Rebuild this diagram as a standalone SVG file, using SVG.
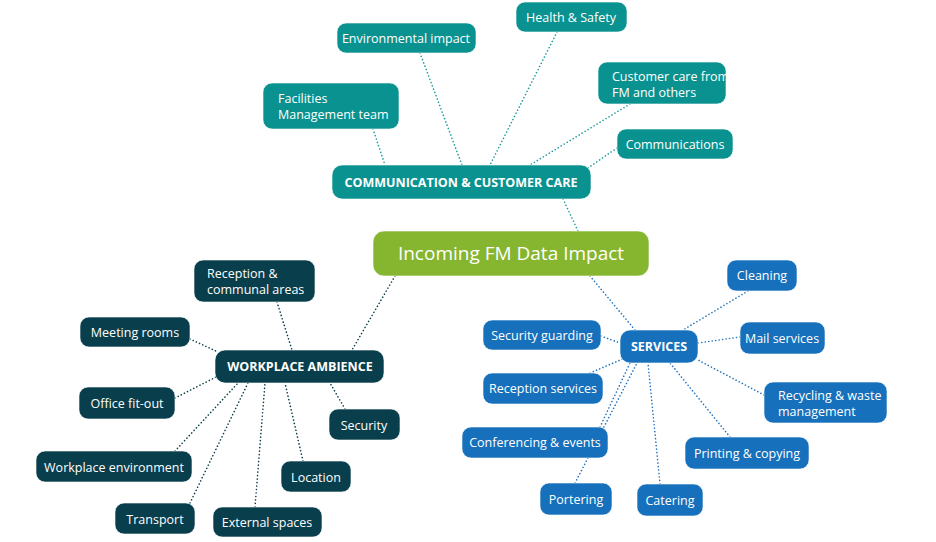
<svg xmlns="http://www.w3.org/2000/svg" width="936" height="542" viewBox="0 0 936 542">
<style>
text{font-family:"Open Sans","Noto Sans",sans-serif;fill:#fff;font-size:12.5px;text-anchor:middle;dominant-baseline:central}
rect{stroke:#fff;stroke-opacity:.6;stroke-width:1}
.t{fill:#0a9290}.d{fill:#093e4c}.b{fill:#1670bb}.g{fill:#86b52f}
.h{font-weight:bold;font-size:12.5px}
#connectors line{stroke-width:1.6;stroke-dasharray:0.1 3.4;stroke-linecap:round}
.ct{stroke:#1a9a9a}.cd{stroke:#0b3d4a}.cb{stroke:#1e74c0}
</style>
<rect width="936" height="542" fill="#fff" stroke="none"/>
<g id="connectors">
<line class="ct" x1="557" y1="32" x2="490" y2="165"/>
<line class="ct" x1="420" y1="53" x2="462" y2="165"/>
<line class="ct" x1="373" y1="129" x2="385" y2="165"/>
<line class="ct" x1="630" y1="104" x2="530" y2="165"/>
<line class="ct" x1="617" y1="148" x2="588" y2="168"/>
<line class="ct" x1="563" y1="199" x2="578" y2="231"/>
<line class="cd" x1="395" y1="276" x2="352" y2="350"/>
<line class="cb" x1="590" y1="276" x2="635" y2="330"/>
<line class="cd" x1="277" y1="302" x2="292" y2="350"/>
<line class="cd" x1="190" y1="339" x2="218" y2="352"/>
<line class="cd" x1="175" y1="398" x2="218" y2="376"/>
<line class="cd" x1="175" y1="451" x2="238" y2="383"/>
<line class="cd" x1="190" y1="503" x2="248" y2="383"/>
<line class="cd" x1="255" y1="507" x2="265" y2="383"/>
<line class="cd" x1="303" y1="461" x2="285" y2="383"/>
<line class="cd" x1="345" y1="409" x2="330" y2="383"/>
<line class="cb" x1="748" y1="291" x2="683" y2="330"/>
<line class="cb" x1="740" y1="337" x2="698" y2="343"/>
<line class="cb" x1="764" y1="395" x2="698" y2="360"/>
<line class="cb" x1="730" y1="437" x2="670" y2="363"/>
<line class="cb" x1="660" y1="484" x2="648" y2="363"/>
<line class="cb" x1="575" y1="483" x2="637" y2="363"/>
<line class="cb" x1="600" y1="427" x2="630" y2="363"/>
<line class="cb" x1="590" y1="373" x2="625" y2="358"/>
<line class="cb" x1="601" y1="336" x2="620" y2="343"/>
</g>
<g id="center"><rect class="g" x="373" y="231" width="276" height="45" rx="11"/><text x="511" y="253" style="font-size:19px">Incoming FM Data Impact</text></g>
<g id="comm"><rect class="t" x="332" y="165" width="259" height="34" rx="10"/><text class="h" x="461" y="182">COMMUNICATION &amp; CUSTOMER CARE</text></g>
<g id="health"><rect class="t" x="516" y="2" width="111" height="30" rx="9"/><text x="571" y="17">Health &amp; Safety</text></g>
<g id="env"><rect class="t" x="337" y="23" width="139" height="30" rx="9"/><text x="406" y="38">Environmental impact</text></g>
<g id="custcare"><rect class="t" x="598" y="62" width="128" height="42" rx="9"/><text x="612" y="76" style="text-anchor:start">Customer care from</text><text x="612" y="92" style="text-anchor:start">FM and others</text></g>
<g id="fmteam"><rect class="t" x="263" y="83" width="136" height="46" rx="9"/><text x="278" y="98" style="text-anchor:start">Facilities</text><text x="278" y="114" style="text-anchor:start">Management team</text></g>
<g id="comms"><rect class="t" x="617" y="129" width="116" height="30" rx="9"/><text x="675" y="144">Communications</text></g>
<g id="workplace"><rect class="d" x="215" y="350" width="169" height="33" rx="10"/><text class="h" x="300" y="366">WORKPLACE AMBIENCE</text></g>
<g id="reception"><rect class="d" x="194" y="260" width="121" height="42" rx="9"/><text x="207" y="273" style="text-anchor:start">Reception &amp;</text><text x="207" y="289" style="text-anchor:start">communal areas</text></g>
<g id="meeting"><rect class="d" x="80" y="317" width="110" height="30" rx="9"/><text x="135" y="332">Meeting rooms</text></g>
<g id="office"><rect class="d" x="79" y="387" width="96" height="32" rx="9"/><text x="127" y="403">Office fit-out</text></g>
<g id="security"><rect class="d" x="329" y="409" width="71" height="31" rx="9"/><text x="364" y="425">Security</text></g>
<g id="wenv"><rect class="d" x="36" y="451" width="156" height="31" rx="9"/><text x="114" y="467">Workplace environment</text></g>
<g id="location"><rect class="d" x="281" y="461" width="70" height="31" rx="9"/><text x="316" y="477">Location</text></g>
<g id="transport"><rect class="d" x="115" y="503" width="80" height="31" rx="9"/><text x="155" y="519">Transport</text></g>
<g id="external"><rect class="d" x="213" y="507" width="109" height="30" rx="9"/><text x="267" y="522">External spaces</text></g>
<g id="services"><rect class="b" x="620" y="330" width="78" height="33" rx="10"/><text class="h" x="659" y="346">SERVICES</text></g>
<g id="cleaning"><rect class="b" x="727" y="260" width="70" height="31" rx="9"/><text x="762" y="275">Cleaning</text></g>
<g id="secguard"><rect class="b" x="483" y="320" width="118" height="30" rx="9"/><text x="542" y="335">Security guarding</text></g>
<g id="mail"><rect class="b" x="740" y="322" width="85" height="32" rx="9"/><text x="782" y="338">Mail services</text></g>
<g id="recsvc"><rect class="b" x="483" y="373" width="120" height="31" rx="9"/><text x="543" y="388">Reception services</text></g>
<g id="recycling"><rect class="b" x="764" y="382" width="123" height="41" rx="9"/><text x="778" y="395" style="text-anchor:start">Recycling &amp; waste</text><text x="778" y="411" style="text-anchor:start">management</text></g>
<g id="conf"><rect class="b" x="462" y="427" width="146" height="31" rx="9"/><text x="535" y="442">Conferencing &amp; events</text></g>
<g id="printing"><rect class="b" x="685" y="437" width="124" height="32" rx="9"/><text x="747" y="453">Printing &amp; copying</text></g>
<g id="portering"><rect class="b" x="540" y="483" width="72" height="32" rx="9"/><text x="576" y="499">Portering</text></g>
<g id="catering"><rect class="b" x="637" y="484" width="66" height="32" rx="9"/><text x="670" y="500">Catering</text></g>
</svg>
